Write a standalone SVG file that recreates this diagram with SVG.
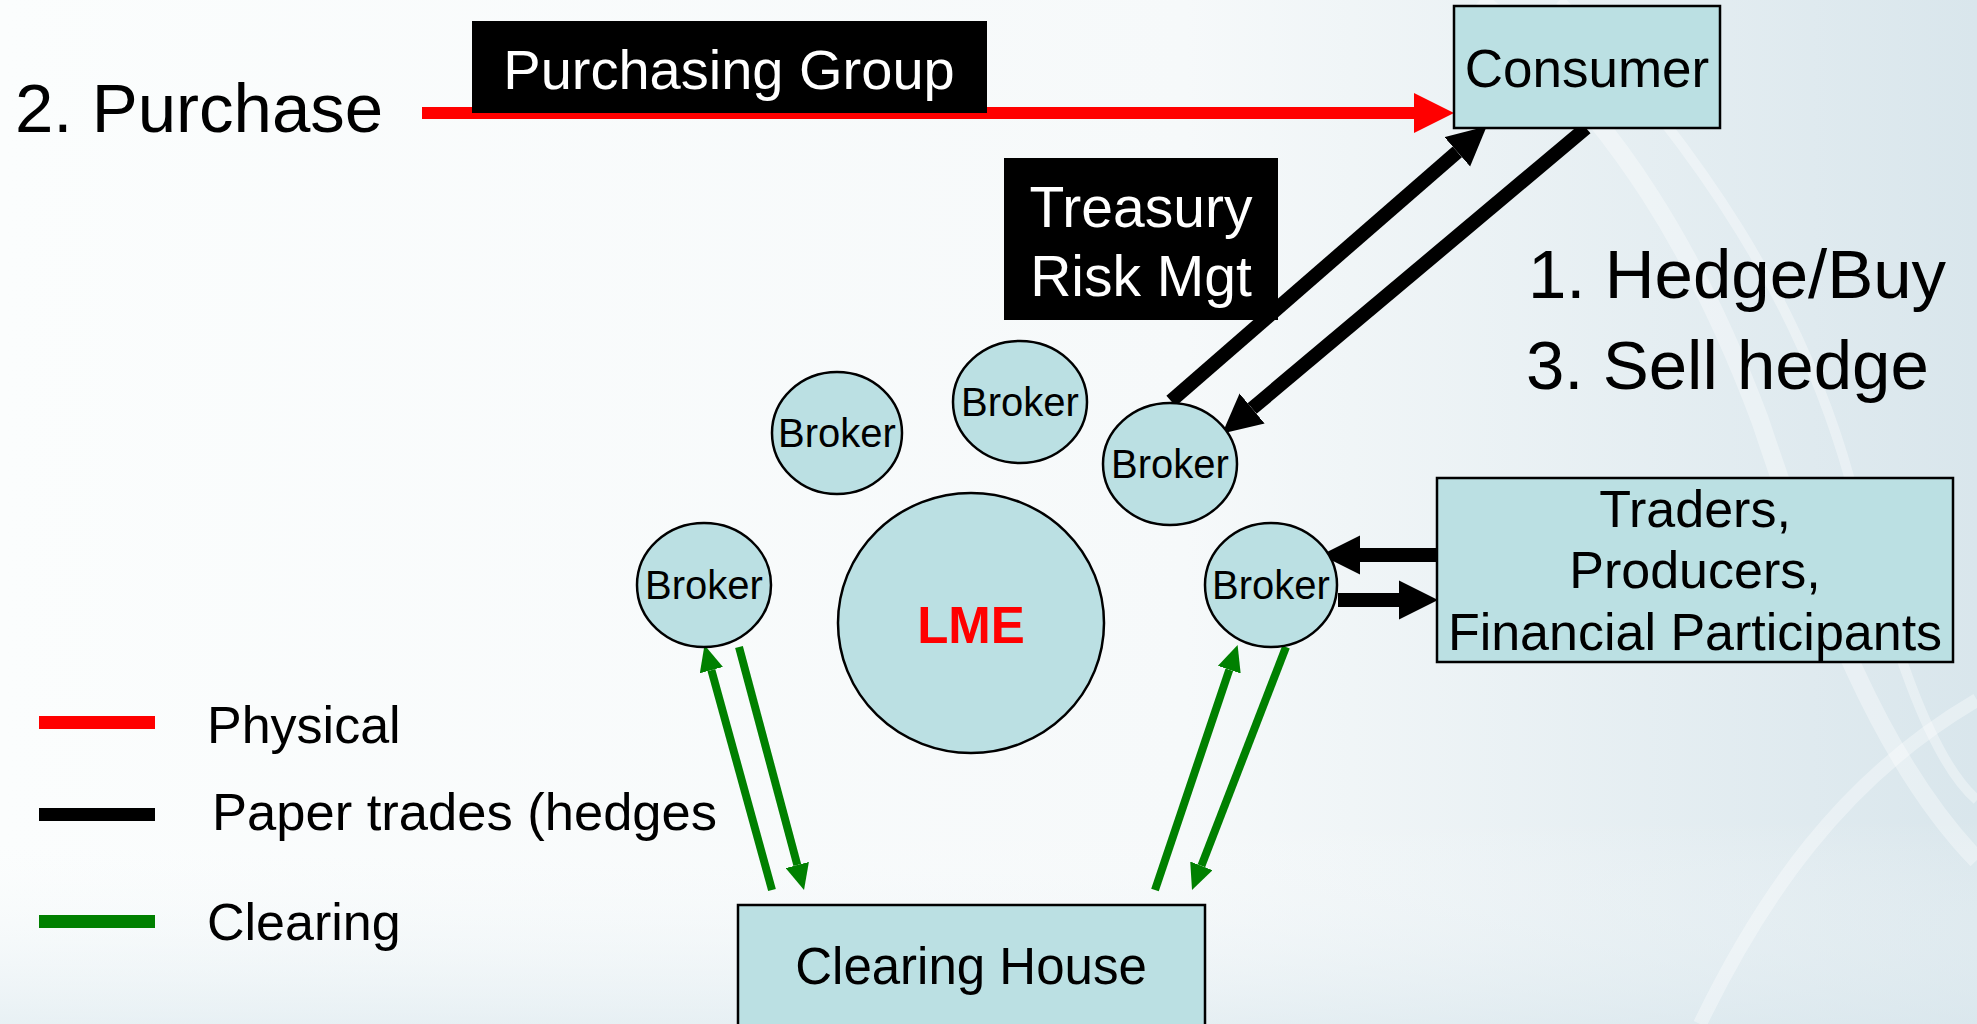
<svg xmlns="http://www.w3.org/2000/svg" width="1977" height="1024" viewBox="0 0 1977 1024">
<style>
text{font-family:"Liberation Sans",Arial,sans-serif;fill:#000}
.node{fill:#bbe0e3;stroke:#000;stroke-width:2.5}
.wt{fill:#fff}
.red{stroke:#ff0000;stroke-width:12;fill:none}
.blk{stroke:#000;stroke-width:14;fill:none}
.grn{stroke:#008000;stroke-width:8;fill:none}
.brk{font-size:40px;text-anchor:middle}
</style>
<defs>
<linearGradient id="bg" x1="0" y1="0" x2="1" y2="0">
<stop offset="0" stop-color="#fbfdfd"/>
<stop offset="0.6" stop-color="#f6f9fa"/>
<stop offset="1" stop-color="#d9e6ec"/>
</linearGradient>
<linearGradient id="bgv" x1="0" y1="0" x2="0" y2="1">
<stop offset="0.8" stop-color="#ffffff" stop-opacity="0"/>
<stop offset="1" stop-color="#dbe8ee" stop-opacity="0.6"/>
</linearGradient>
<marker id="hr" markerUnits="userSpaceOnUse" viewBox="0 -20 40 40" refX="0" refY="0" markerWidth="40" markerHeight="40" orient="auto">
<path d="M0,-20 L40,0 L0,20 z" fill="#ff0000"/>
</marker>
<marker id="hb" markerUnits="userSpaceOnUse" viewBox="0 -20 39 40" refX="0" refY="0" markerWidth="39" markerHeight="40" orient="auto">
<path d="M0,-19.5 L39,0 L0,19.5 z" fill="#000"/>
</marker>
<marker id="hg" markerUnits="userSpaceOnUse" viewBox="0 -12 26 24" refX="0" refY="0" markerWidth="26" markerHeight="24" orient="auto">
<path d="M0,-12 L26,0 L0,12 z" fill="#008000"/>
</marker>
</defs>
<rect width="1977" height="1024" fill="url(#bg)"/>
<rect width="1977" height="1024" fill="url(#bgv)"/>
<g fill="none" stroke="#ffffff" stroke-opacity="0.35">
<path d="M1480,0 C1620,120 1700,260 1760,420 C1820,600 1880,760 1977,860" stroke-width="18"/>
<path d="M1560,0 C1700,150 1800,300 1850,480 C1890,640 1930,760 1977,800" stroke-width="10"/>
<path d="M1700,1024 C1760,900 1840,780 1977,700" stroke-width="14"/>
</g>

<g id="connectors">
<line class="red" x1="422" y1="113" x2="1414" y2="113" marker-end="url(#hr)"/>
<line class="blk" x1="1171" y1="401" x2="1457.3" y2="151.9" marker-end="url(#hb)"/>
<line class="blk" x1="1586" y1="128" x2="1252.1" y2="408.5" marker-end="url(#hb)"/>
<line class="blk" x1="1437" y1="555" x2="1360" y2="555" marker-end="url(#hb)"/>
<line class="blk" x1="1338" y1="600" x2="1399" y2="600" marker-end="url(#hb)"/>
<line class="grn" x1="772" y1="890" x2="711.4" y2="670.1" marker-end="url(#hg)"/>
<line class="grn" x1="739" y1="647" x2="797.3" y2="865" marker-end="url(#hg)"/>
<line class="grn" x1="1155" y1="890" x2="1229.3" y2="669.7" marker-end="url(#hg)"/>
<line class="grn" x1="1286" y1="647" x2="1201.4" y2="865.8" marker-end="url(#hg)"/>
</g>

<g id="purchase-label">
<text x="15" y="132" font-size="69">2. Purchase</text>
</g>
<g id="purchasing-group">
<rect x="472" y="21" width="515" height="92" fill="#000"/>
<text class="wt" x="729" y="89" font-size="56" text-anchor="middle">Purchasing Group</text>
</g>
<g id="consumer">
<rect class="node" x="1454" y="6" width="266" height="122"/>
<text x="1587" y="87" font-size="53" text-anchor="middle">Consumer</text>
</g>
<g id="treasury">
<rect x="1004" y="158" width="274" height="162" fill="#000"/>
<text class="wt" x="1141" y="227" font-size="57" text-anchor="middle">Treasury</text>
<text class="wt" x="1141" y="296" font-size="57" text-anchor="middle">Risk Mgt</text>
</g>
<g id="hedge-label">
<text x="1528" y="298" font-size="69">1. Hedge/Buy</text>
<text x="1526" y="389" font-size="69">3. Sell hedge</text>
</g>
<g id="broker-a">
<ellipse class="node" cx="837" cy="433" rx="65" ry="61"/>
<text class="brk" x="837" y="447">Broker</text>
</g>
<g id="broker-b">
<ellipse class="node" cx="1020" cy="402" rx="67" ry="61"/>
<text class="brk" x="1020" y="416">Broker</text>
</g>
<g id="broker-c">
<ellipse class="node" cx="1170" cy="464" rx="67" ry="61"/>
<text class="brk" x="1170" y="478">Broker</text>
</g>
<g id="broker-d">
<ellipse class="node" cx="704" cy="585" rx="67" ry="62"/>
<text class="brk" x="704" y="599">Broker</text>
</g>
<g id="broker-e">
<ellipse class="node" cx="1271" cy="585" rx="66" ry="62"/>
<text class="brk" x="1271" y="599">Broker</text>
</g>
<g id="lme">
<ellipse class="node" cx="971" cy="623" rx="133" ry="130"/>
<text x="971" y="643" font-size="51" font-weight="bold" text-anchor="middle" style="fill:#ff0000">LME</text>
</g>
<g id="traders">
<rect class="node" x="1437" y="478" width="516" height="184"/>
<text x="1695" y="527" font-size="52" text-anchor="middle">Traders,</text>
<text x="1695" y="588" font-size="52" text-anchor="middle">Producers,</text>
<text x="1695" y="650" font-size="52" text-anchor="middle">Financial Participants</text>
</g>
<g id="clearing-house">
<rect class="node" x="738" y="905" width="467" height="130"/>
<text x="971" y="984" font-size="51" text-anchor="middle">Clearing House</text>
</g>
<g id="legend">
<rect x="39" y="716" width="116" height="13" fill="#ff0000"/>
<text x="207" y="743" font-size="52">Physical</text>
<rect x="39" y="808" width="116" height="13" fill="#000"/>
<text x="212" y="830" font-size="52" textLength="505" lengthAdjust="spacingAndGlyphs">Paper trades (hedges</text>
<rect x="39" y="915" width="116" height="13" fill="#008000"/>
<text x="207" y="940" font-size="52">Clearing</text>
</g>
</svg>
